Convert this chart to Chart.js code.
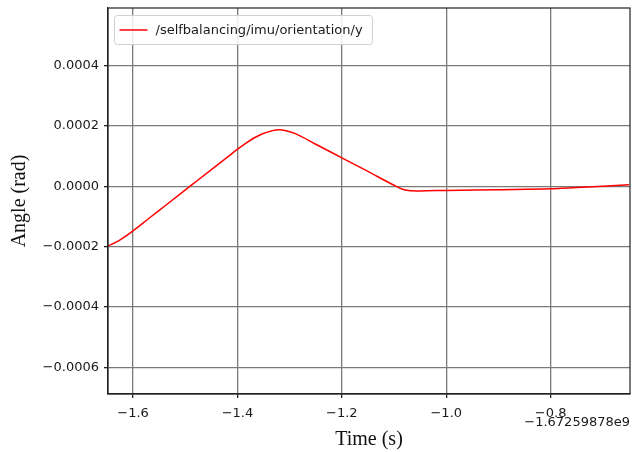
<!DOCTYPE html>
<html>
<head>
<meta charset="utf-8">
<script src="https://cdn.jsdelivr.net/npm/chart.js@4.4.1/dist/chart.umd.min.js"></script>
<style>
  html, body { margin: 0; padding: 0; background: #fff; }
  #wrap { width: 640px; height: 452px; }
</style>
</head>
<body>
<div id="wrap"><canvas id="myChart" width="640" height="452"></canvas></div>
<script>
// Time relative to offset (s) and orientation angle (rad)
const timeValues = [-1.65, -1.627, -1.60, -1.57, -1.538, -1.487, -1.45, -1.418, -1.401, -1.385,
    -1.37, -1.353, -1.335, -1.321, -1.305, -1.289, -1.25, -1.20, -1.15, -1.10,
    -1.085, -1.072, -1.05, -1.0, -0.9, -0.8, -0.75, -0.70, -0.65];
const angleValues = [-0.000200, -0.000180, -0.000148, -0.000107, -0.000064, 0.000005, 0.000055, 0.000098, 0.000121, 0.000141,
    0.000158, 0.000173, 0.000183, 0.000187, 0.000183, 0.000174, 0.000139, 0.000094, 0.000049, 0.000003,
    -0.000009, -0.000014, -0.0000155, -0.000014, -0.0000115, -0.0000087, -0.0000043, 0.000000, 0.0000046];

const seriesLabel = '/selfbalancing/imu/orientation/y';
const xTicks = [-1.6, -1.4, -1.2, -1.0, -0.8];
const xTickLabels = ['\u22121.6', '\u22121.4', '\u22121.2', '\u22121.0', '\u22120.8'];
const yTicks = [-0.0006, -0.0004, -0.0002, 0.0, 0.0002, 0.0004];
const yTickLabels = ['\u22120.0006', '\u22120.0004', '\u22120.0002', '0.0000', '0.0002', '0.0004'];
const xOffsetText = '\u22121.67259878e9';

const points = timeValues.map((t, i) => ({ x: t, y: angleValues[i] }));

// frame on top/right, legend box inside the axes, offset label
const extras = {
    id: 'extras',
    afterDraw(chart) {
        const { ctx, chartArea: a } = chart;
        ctx.save();
        ctx.strokeStyle = '#222';
        ctx.lineWidth = 1.2;
        ctx.strokeRect(a.left, a.top, a.right - a.left, a.bottom - a.top);

        // legend
        const bx = a.left + 6.5, by = a.top + 7.5, bw = 258, bh = 29, r = 3;
        ctx.beginPath();
        ctx.moveTo(bx + r, by);
        ctx.arcTo(bx + bw, by, bx + bw, by + bh, r);
        ctx.arcTo(bx + bw, by + bh, bx, by + bh, r);
        ctx.arcTo(bx, by + bh, bx, by, r);
        ctx.arcTo(bx, by, bx + bw, by, r);
        ctx.closePath();
        ctx.fillStyle = 'rgba(255,255,255,0.85)';
        ctx.fill();
        ctx.strokeStyle = '#d0d0d0';
        ctx.lineWidth = 1;
        ctx.stroke();
        const ds = chart.data.datasets[0];
        ctx.strokeStyle = ds.borderColor;
        ctx.lineWidth = 1.5;
        ctx.beginPath();
        ctx.moveTo(bx + 5, by + bh / 2);
        ctx.lineTo(bx + 33, by + bh / 2);
        ctx.stroke();
        ctx.fillStyle = '#1a1a1a';
        ctx.font = '13px "DejaVu Sans"';
        ctx.textBaseline = 'middle';
        ctx.textAlign = 'left';
        ctx.fillText(ds.label, bx + 41, by + bh / 2 + 0.5);

        // offset text
        ctx.textAlign = 'right';
        ctx.fillText(xOffsetText, a.right, 423);
        ctx.restore();
    }
};

const ctx = document.getElementById('myChart').getContext('2d');
const myChart = new Chart(ctx, {
    type: 'line',
    data: {
        datasets: [{
            label: seriesLabel,
            data: points,
            borderColor: '#ff0000',
            borderWidth: 1.5,
            pointRadius: 0,
            fill: false,
            cubicInterpolationMode: 'monotone',
        }]
    },
    options: {
        responsive: false,
        animation: false,
        devicePixelRatio: 1,
        layout: { padding: { top: 8, right: 10, left: 0, bottom: 0 } },
        plugins: {
            legend: { display: false },
            tooltip: { enabled: false },
        },
        scales: {
            x: {
                type: 'linear',
                min: -1.648,
                max: -0.648,
                afterBuildTicks: (scale) => { scale.ticks = xTicks.map(v => ({ value: v })); },
                afterFit: (scale) => { scale.height = 58; },
                ticks: {
                    color: '#1a1a1a',
                    font: { family: 'DejaVu Sans', size: 13 },
                    padding: 8,
                    maxRotation: 0,
                    callback: (v) => xTickLabels[xTicks.findIndex(t => Math.abs(t - v) < 1e-9)],
                },
                grid: { color: '#7a7a7a', lineWidth: 1.3, tickLength: 4, tickColor: '#222' },
                border: { color: '#222', width: 1.2 },
                title: {
                    display: true,
                    text: 'Time (s)',
                    color: '#111',
                    font: { family: 'Liberation Serif', size: 20 },
                    padding: { top: 0, bottom: 0 },
                },
            },
            y: {
                min: -0.000688,
                max: 0.00059,
                afterBuildTicks: (scale) => { scale.ticks = yTicks.map(v => ({ value: v })); },
                afterFit: (scale) => {
                    scale.width = 108;
                    scale.paddingTop = 0;
                    scale.paddingBottom = 0;
                },
                ticks: {
                    color: '#1a1a1a',
                    font: { family: 'DejaVu Sans', size: 13 },
                    padding: 5,
                    callback: (v) => yTickLabels[yTicks.findIndex(t => Math.abs(t - v) < 1e-12)],
                },
                grid: { color: '#7a7a7a', lineWidth: 1.3, tickLength: 4, tickColor: '#222' },
                border: { color: '#222', width: 1.2 },
                title: {
                    display: true,
                    text: 'Angle (rad)',
                    color: '#111',
                    font: { family: 'Liberation Serif', size: 20 },
                    padding: { top: 8, bottom: 8 },
                },
            },
        },
    },
    plugins: [extras],
});
</script>
</body>
</html>
